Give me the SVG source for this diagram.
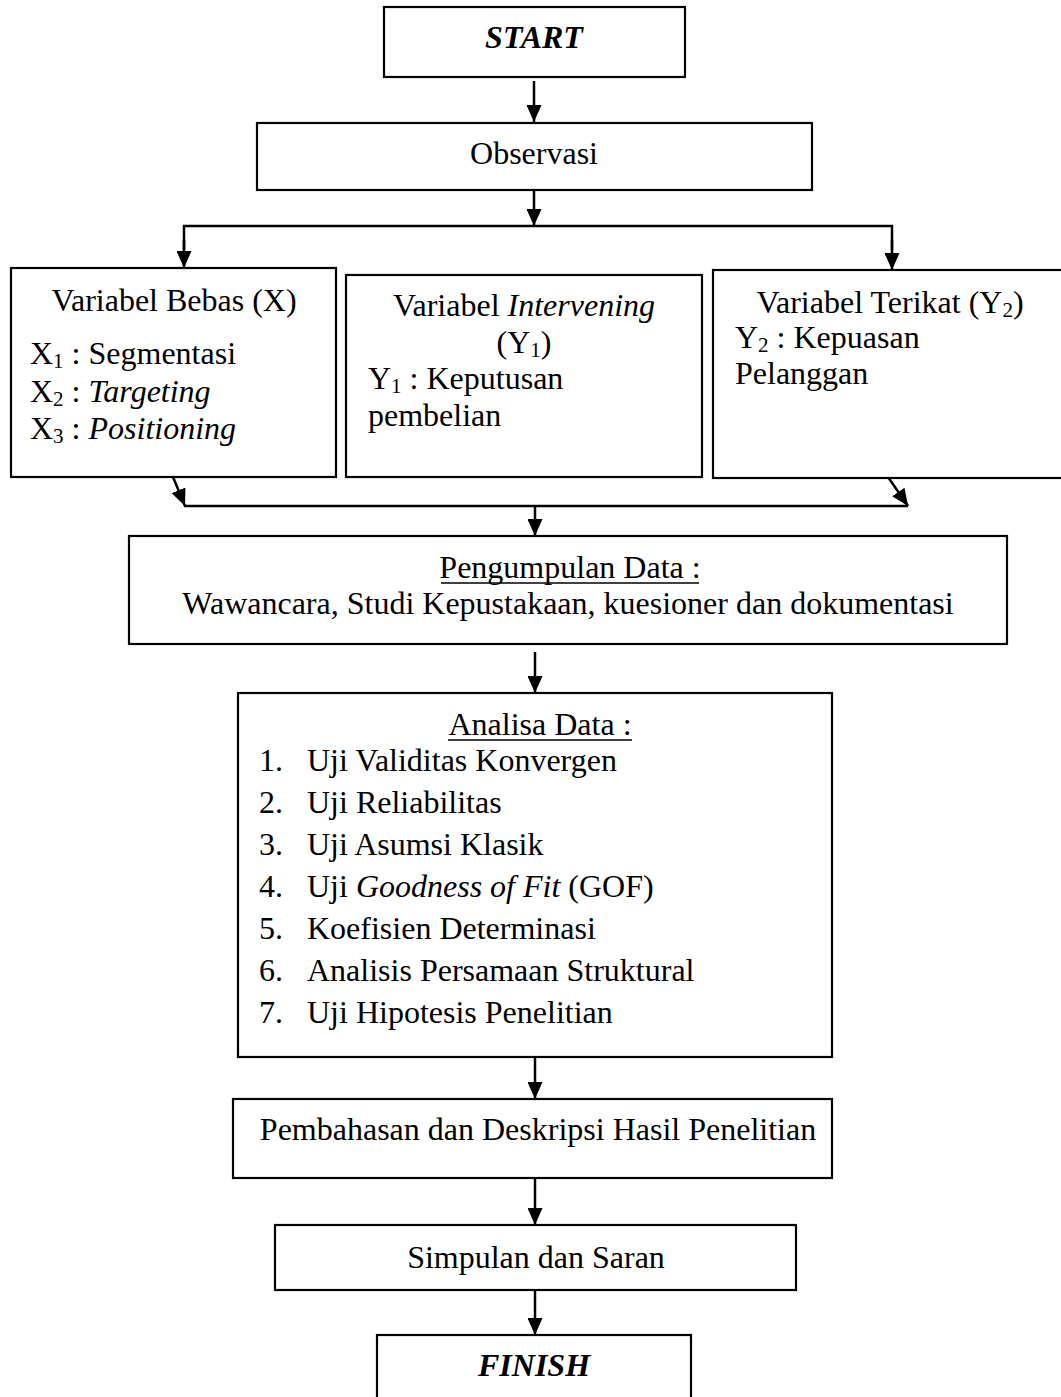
<svg xmlns="http://www.w3.org/2000/svg" width="1061" height="1397" viewBox="0 0 1061 1397">
  <defs>
    <style>
      .box { fill: #fff; stroke: #000; stroke-width: 2.2; }
      .wire { fill: none; stroke: #000; stroke-width: 2.5; }
      text { font-family: "Liberation Serif", "Times New Roman", serif; font-size: 32px; fill: #000; }
      .mid { text-anchor: middle; }
      .it { font-style: italic; }
      .bi { font-style: italic; font-weight: bold; }
      .sub { font-size: 21px; }
      .ul { fill: none; stroke: #000; stroke-width: 1.6; }
    </style>
    <marker id="arrow" markerUnits="userSpaceOnUse" markerWidth="17" markerHeight="15" refX="17" refY="7.5" orient="auto">
      <path d="M0,0 L17,7.5 L0,15 z" fill="#000"/>
    </marker>
  </defs>
  <rect width="1061" height="1397" fill="#fff"/>

  <!-- connectors -->
  <g id="connectors">
    <line class="wire" x1="534" y1="81" x2="534" y2="122" marker-end="url(#arrow)"/>
    <line class="wire" x1="534" y1="190" x2="534" y2="226" marker-end="url(#arrow)"/>
    <polyline class="wire" points="184,250 184,226 892,226 892,250"/>
    <line class="wire" x1="184" y1="240" x2="184" y2="268" marker-end="url(#arrow)"/>
    <line class="wire" x1="892" y1="240" x2="892" y2="270" marker-end="url(#arrow)"/>
    <line class="wire" x1="173" y1="477" x2="185" y2="506" marker-end="url(#arrow)"/>
    <line class="wire" x1="888" y1="477" x2="908" y2="506" marker-end="url(#arrow)"/>
    <line class="wire" x1="184" y1="506" x2="908" y2="506"/>
    <line class="wire" x1="535" y1="506" x2="535" y2="536" marker-end="url(#arrow)"/>
    <line class="wire" x1="535" y1="652" x2="535" y2="693" marker-end="url(#arrow)"/>
    <line class="wire" x1="535" y1="1057" x2="535" y2="1099" marker-end="url(#arrow)"/>
    <line class="wire" x1="535" y1="1178" x2="535" y2="1225" marker-end="url(#arrow)"/>
    <line class="wire" x1="535" y1="1290" x2="535" y2="1335" marker-end="url(#arrow)"/>
  </g>

  <g id="start">
    <rect class="box" x="384" y="7" width="301" height="70"/>
    <text class="mid bi" x="534" y="48">START</text>
  </g>

  <g id="observasi">
    <rect class="box" x="257" y="123" width="555" height="67"/>
    <text class="mid" x="534" y="164">Observasi</text>
  </g>

  <g id="variabel-bebas">
    <rect class="box" x="11" y="268" width="325" height="209"/>
    <text class="mid" x="174" y="311">Variabel Bebas (X)</text>
    <text x="30" y="364">X<tspan class="sub" dy="4">1</tspan><tspan dy="-4"> : Segmentasi</tspan></text>
    <text x="30" y="402">X<tspan class="sub" dy="4">2</tspan><tspan dy="-4"> : </tspan><tspan class="it">Targeting</tspan></text>
    <text x="30" y="439">X<tspan class="sub" dy="4">3</tspan><tspan dy="-4"> : </tspan><tspan class="it">Positioning</tspan></text>
  </g>

  <g id="variabel-intervening">
    <rect class="box" x="346" y="275" width="356" height="202"/>
    <text class="mid" x="524" y="316">Variabel <tspan class="it">Intervening</tspan></text>
    <text class="mid" x="524" y="353">(Y<tspan class="sub" dy="4">1</tspan><tspan dy="-4">)</tspan></text>
    <text x="368" y="389">Y<tspan class="sub" dy="4">1</tspan><tspan dy="-4"> : Keputusan</tspan></text>
    <text x="368" y="426">pembelian</text>
  </g>

  <g id="variabel-terikat">
    <rect class="box" x="713" y="270" width="362" height="208"/>
    <text class="mid" x="890" y="313">Variabel Terikat (Y<tspan class="sub" dy="4">2</tspan><tspan dy="-4">)</tspan></text>
    <text x="735" y="348">Y<tspan class="sub" dy="4">2</tspan><tspan dy="-4"> : Kepuasan</tspan></text>
    <text x="735" y="384">Pelanggan</text>
  </g>

  <g id="pengumpulan-data">
    <rect class="box" x="129" y="536" width="878" height="108"/>
    <text class="mid" x="570" y="578">Pengumpulan Data :</text>
    <line class="ul" x1="441" y1="583" x2="699" y2="583"/>
    <text class="mid" x="568" y="614">Wawancara, Studi Kepustakaan, kuesioner dan dokumentasi</text>
  </g>

  <g id="analisa-data">
    <rect class="box" x="238" y="693" width="594" height="364"/>
    <text class="mid" x="540" y="735">Analisa Data :</text>
    <line class="ul" x1="448" y1="740" x2="632" y2="740"/>
    <text x="259" y="771">1.</text><text x="307" y="771">Uji Validitas Konvergen</text>
    <text x="259" y="813">2.</text><text x="307" y="813">Uji Reliabilitas</text>
    <text x="259" y="855">3.</text><text x="307" y="855">Uji Asumsi Klasik</text>
    <text x="259" y="897">4.</text><text x="307" y="897">Uji <tspan class="it">Goodness of Fit</tspan> (GOF)</text>
    <text x="259" y="939">5.</text><text x="307" y="939">Koefisien Determinasi</text>
    <text x="259" y="981">6.</text><text x="307" y="981">Analisis Persamaan Struktural</text>
    <text x="259" y="1023">7.</text><text x="307" y="1023">Uji Hipotesis Penelitian</text>
  </g>

  <g id="pembahasan">
    <rect class="box" x="233" y="1099" width="599" height="79"/>
    <text class="mid" x="538" y="1140">Pembahasan dan Deskripsi Hasil Penelitian</text>
  </g>

  <g id="simpulan">
    <rect class="box" x="275" y="1225" width="521" height="65"/>
    <text class="mid" x="536" y="1268">Simpulan dan Saran</text>
  </g>

  <g id="finish">
    <rect class="box" x="377" y="1335" width="314" height="80"/>
    <text class="mid bi" x="534" y="1376">FINISH</text>
  </g>
</svg>
